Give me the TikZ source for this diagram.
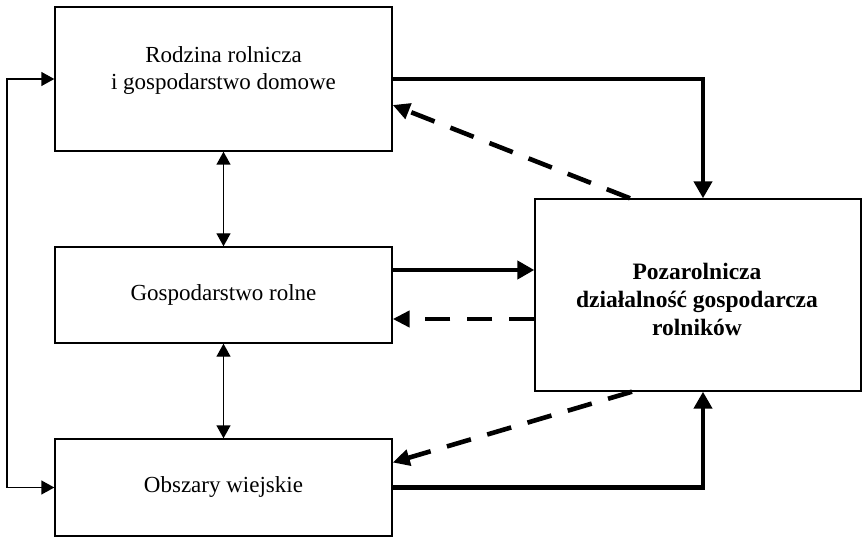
\documentclass[tikz,border=0pt]{standalone}
\usepackage{fontspec}
\setmainfont{Liberation Serif}
\usetikzlibrary{arrows.meta,calc}
\begin{document}
\begin{tikzpicture}[x=1pt,y=-1pt,
  box/.style={draw=black,line width=1.4pt,fill=white,minimum width=337pt,inner sep=0pt},
  txt/.style={align=center,font=\fontsize{23}{27}\selectfont,inner sep=0pt},
  thinarrow/.style={line width=1.4pt,{Triangle[length=13pt,width=14pt]}-{Triangle[length=13pt,width=14pt]}},
  thickarrow/.style={line width=4.2pt,-{Triangle[length=17pt,width=18pt]}},
  dasharrow/.style={line width=4.6pt,dash pattern=on 25pt off 17pt,-{Triangle[length=17pt,width=16pt]}}
]
\useasboundingbox (0,0) rectangle (862,537);
\node[box,minimum height=144pt] (b1) at (223.5,79) {};
\node[box,minimum height=96pt] (b2) at (223.5,295) {};
\node[box,minimum height=97pt] (b3) at (223.5,487.5) {};
\node[box,minimum width=326pt,minimum height=192pt] (b4) at (698,295) {};
\node[txt] (t1) at (223.5,71) {Rodzina rolnicza\\i gospodarstwo domowe};
\node[txt] (t2) at (b2.center) {Gospodarstwo rolne};
\node[txt] (t3) at (b3.center) {Obszary wiejskie};
\node[txt,font=\fontsize{23.5}{28}\selectfont\bfseries] (t4) at (697,299) {Pozarolnicza\\działalność gospodarcza\\rolników};
% left loop
\draw[thinarrow] (b1.west) -- ++(-47.5,0) |- (b3.west);
\draw[thinarrow] (b1.south) -- (b2.north);
\draw[thinarrow] (b2.south) -- (b3.north);
% thick arrows
\draw[thickarrow] (b1.east) -| ([xshift=5pt]b4.north);
\draw[thickarrow] ([yshift=25pt]b2.east) -- ([yshift=25pt]b2.east -| b4.west);
\draw[thickarrow] (b3.east) -| ([xshift=5pt]b4.south);
% dashed arrows
\draw[dasharrow] ([xshift=-68pt]b4.north) -- ([yshift=-26pt]b1.east);
\draw[dasharrow] ([yshift=-24pt]b4.west) -- ([yshift=-24pt]b4.west -| b2.east);
\draw[dasharrow] ([xshift=-66pt]b4.south) -- ([yshift=25pt]b3.east);
\end{tikzpicture}
\end{document}
